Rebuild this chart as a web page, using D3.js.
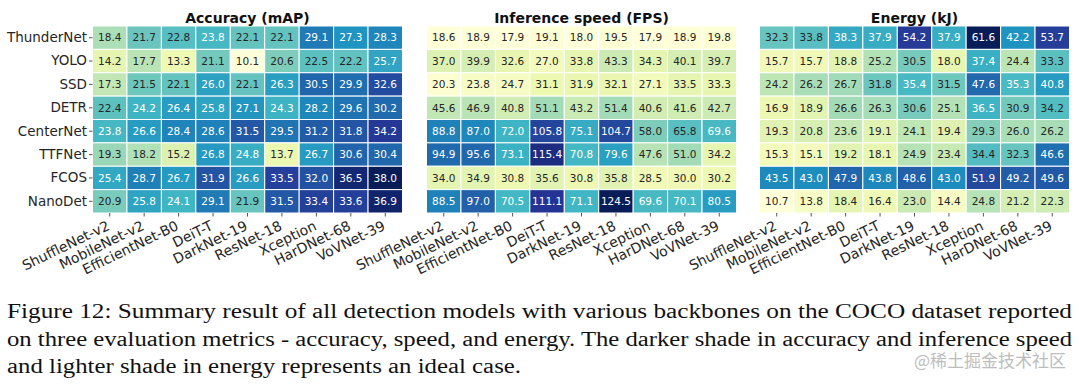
<!DOCTYPE html>
<html lang="en">
<head>
  <meta charset="UTF-8">
  <title>Detection models summary</title>
  <style>
    body { margin: 0; background: #fff; }
    svg { display: block; }
  </style>
</head>
<body>
<svg id="chart" width="1080" height="384"></svg>
<script src="https://d3js.org/d3.v7.min.js"></script>
<script>
  // rows (detectors) and columns (backbones)
  const models = ["ThunderNet", "YOLO", "SSD", "DETR", "CenterNet", "TTFNet", "FCOS", "NanoDet"];
  const backbones = ["ShuffleNet-v2", "MobileNet-v2", "EfficientNet-B0", "DeiT-T", "DarkNet-19",
                     "ResNet-18", "Xception", "HarDNet-68", "VoVNet-39"];

  // values, one row per model
  const accuracy = [
    [18.4, 21.7, 22.8, 23.8, 22.1, 22.1, 29.1, 27.3, 28.3],
    [14.2, 17.7, 13.3, 21.1, 10.1, 20.6, 22.5, 22.2, 25.7],
    [17.3, 21.5, 22.1, 26.0, 22.1, 26.3, 30.5, 29.9, 32.6],
    [22.4, 24.2, 26.4, 25.8, 27.1, 24.3, 28.2, 29.6, 30.2],
    [23.8, 26.6, 28.4, 28.6, 31.5, 29.5, 31.2, 31.8, 34.2],
    [19.3, 18.2, 15.2, 26.8, 24.8, 13.7, 26.7, 30.6, 30.4],
    [25.4, 28.7, 26.7, 31.9, 26.6, 33.5, 32.0, 36.5, 38.0],
    [20.9, 25.8, 24.1, 29.1, 21.9, 31.5, 33.4, 33.6, 36.9]
  ];
  const speed = [
    [18.6, 18.9, 17.9, 19.1, 18.0, 19.5, 17.9, 18.9, 19.8],
    [37.0, 39.9, 32.6, 27.0, 33.8, 43.3, 34.3, 40.1, 39.7],
    [20.3, 23.8, 24.7, 31.1, 31.9, 32.1, 27.1, 33.5, 33.3],
    [45.6, 46.9, 40.8, 51.1, 43.2, 51.4, 40.6, 41.6, 42.7],
    [88.8, 87.0, 72.0, 105.8, 75.1, 104.7, 58.0, 65.8, 69.6],
    [94.9, 95.6, 73.1, 115.4, 70.8, 79.6, 47.6, 51.0, 34.2],
    [34.0, 34.9, 30.8, 35.6, 30.8, 35.8, 28.5, 30.0, 30.2],
    [88.5, 97.0, 70.5, 111.1, 71.1, 124.5, 69.6, 70.1, 80.5]
  ];
  const energy = [
    [32.3, 33.8, 38.3, 37.9, 54.2, 37.9, 61.6, 42.2, 53.7],
    [15.7, 15.7, 18.8, 25.2, 30.5, 18.0, 37.4, 24.4, 33.3],
    [24.2, 26.2, 26.7, 31.8, 35.4, 31.5, 47.6, 35.3, 40.8],
    [16.9, 18.9, 26.6, 26.3, 30.6, 25.1, 36.5, 30.9, 34.2],
    [19.3, 20.8, 23.6, 19.1, 24.1, 19.4, 29.3, 26.0, 26.2],
    [15.3, 15.1, 19.2, 18.1, 24.9, 23.4, 34.4, 32.3, 46.6],
    [43.5, 43.0, 47.9, 43.8, 48.6, 43.0, 51.9, 49.2, 49.6],
    [10.7, 13.8, 18.4, 16.4, 23.0, 14.4, 24.8, 21.2, 22.3]
  ];

  const titles = ["Accuracy (mAP)", "Inference speed (FPS)", "Energy (kJ)"];
  const captionLines = [
    "Figure 12: Summary result of all detection models with various backbones on the COCO dataset reported",
    "on three evaluation metrics - accuracy, speed, and energy. The darker shade in accuracy and inference speed",
    "and lighter shade in energy represents an ideal case."
  ];

  const svg = d3.select("#chart");
  const panels = [
    {title: titles[0], data: accuracy, x0: 92.5, yLabels: true},
    {title: titles[1], data: speed, x0: 426.5, yLabels: false},
    {title: titles[2], data: energy, x0: 759.5, yLabels: false}
  ];
  const panelW = 310, panelTop = 26, panelH = 187;
  const dark = "#262626";

  // matplotlib YlGnBu = linear through the 9 brewer colours
  const brewer = d3.schemeYlGnBu[9];

  // seaborn picks annotation colour by relative luminance
  function luminance(c) {
    const rgb = d3.rgb(c);
    const lin = [rgb.r, rgb.g, rgb.b].map(v => {
      v = v / 255;
      return v <= 0.03928 ? v / 12.92 : Math.pow((v + 0.055) / 1.055, 2.4);
    });
    return 0.2126 * lin[0] + 0.7152 * lin[1] + 0.0722 * lin[2];
  }

  panels.forEach(function(p) {
    const x = d3.scaleBand().domain(backbones).range([p.x0, p.x0 + panelW]);
    const y = d3.scaleBand().domain(models).range([panelTop, panelTop + panelH]);
    const all = p.data.flat();
    const lo = d3.min(all), hi = d3.max(all);
    const color = d3.scaleLinear()
      .domain(d3.range(9).map(i => lo + (hi - lo) * i / 8))
      .range(brewer)
      .interpolate(d3.interpolateRgb);

    const cells = [];
    p.data.forEach((row, i) => row.forEach((v, j) => cells.push({m: models[i], b: backbones[j], v: v})));

    const g = svg.append("g");
    g.selectAll("rect").data(cells).join("rect")
      .attr("x", d => x(d.b))
      .attr("y", d => y(d.m))
      .attr("width", x.bandwidth())
      .attr("height", y.bandwidth())
      .attr("fill", d => color(d.v))
      .attr("stroke", "#fff")
      .attr("stroke-width", 1);

    g.selectAll("text.val").data(cells).join("text")
      .attr("class", "val")
      .attr("x", d => x(d.b) + x.bandwidth() / 2)
      .attr("y", d => y(d.m) + y.bandwidth() / 2)
      .attr("dy", "0.36em")
      .attr("text-anchor", "middle")
      .attr("font-family", "DejaVu Sans")
      .attr("font-size", "10.5px")
      .attr("fill", d => luminance(color(d.v)) > 0.408 ? dark : "#fff")
      .text(d => d.v.toFixed(1));

    // title
    svg.append("text")
      .attr("x", p.x0 + panelW / 2)
      .attr("y", 23)
      .attr("text-anchor", "middle")
      .attr("font-family", "DejaVu Sans")
      .attr("font-weight", "bold")
      .attr("font-size", "14px")
      .attr("fill", "#111")
      .text(p.title);

    // x axis with rotated labels
    const xAxis = svg.append("g")
      .attr("transform", `translate(0,${panelTop + panelH})`)
      .call(d3.axisBottom(x).tickSize(3.5).tickPadding(0).tickFormat(""));
    xAxis.select(".domain").remove();
    xAxis.selectAll("line").attr("stroke", "#555");
    svg.append("g").selectAll("text").data(backbones).join("text")
      .attr("transform", d => `translate(${x(d) + x.bandwidth() / 2 + 1},${panelTop + panelH + 16}) rotate(-26)`)
      .attr("text-anchor", "end")
      .attr("font-family", "DejaVu Sans")
      .attr("font-size", "14px")
      .attr("fill", dark)
      .text(d => d);

    if (p.yLabels) {
      const yAxis = svg.append("g")
        .attr("transform", `translate(${p.x0},0)`)
        .call(d3.axisLeft(y).tickSize(3.5).tickPadding(2));
      yAxis.select(".domain").remove();
      yAxis.selectAll("line").attr("stroke", "#555");
      yAxis.selectAll("text")
        .attr("font-family", "DejaVu Sans")
        .attr("font-size", "13.5px")
        .attr("fill", dark);
    }
  });

  // caption underneath, justified like the LaTeX source
  const capLengths = [1065, 1065, 514];
  svg.append("g").selectAll("text").data(captionLines).join("text")
    .attr("x", 7)
    .attr("y", (d, i) => 318 + i * 27.5)
    .attr("font-family", "Liberation Serif")
    .attr("font-size", "20px")
    .attr("fill", "#111")
    .attr("textLength", (d, i) => capLengths[i])
    .attr("lengthAdjust", "spacingAndGlyphs")
    .text(d => d);

  // watermark
  svg.append("text")
    .attr("x", 1066)
    .attr("y", 367)
    .attr("text-anchor", "end")
    .attr("font-family", "Noto Sans CJK SC")
    .attr("font-size", "17px")
    .attr("fill", "#bdbdbd")
    .text("@稀土掘金技术社区");
</script>
</body>
</html>
